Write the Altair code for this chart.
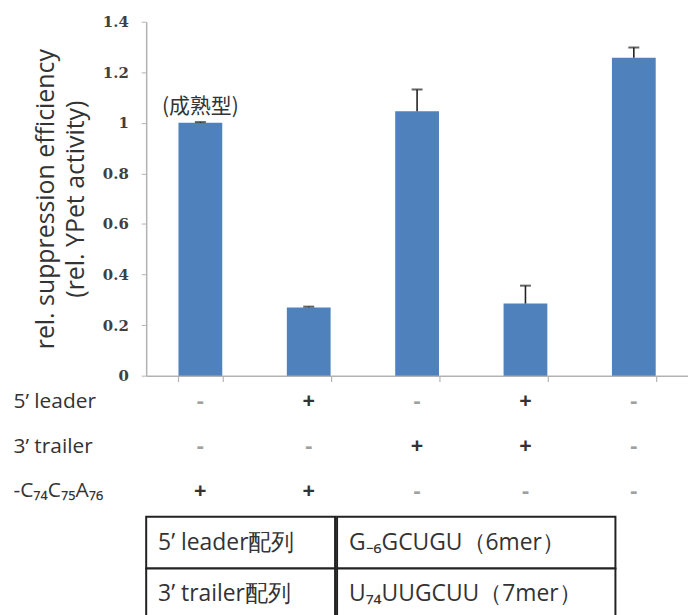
import altair as alt
import pandas as pd

# ---- data ----
conditions = ["c1", "c2", "c3", "c4", "c5"]
efficiency = [1.0, 0.27, 1.046, 0.285, 1.258]
error_top = [1.003, 0.273, 1.132, 0.356, 1.298]
notes = ["(成熟型)", "", "", "", ""]

row_names = ["5’ leader", "3’ trailer", "-C₇₄C₇₅A₇₆"]
leader = ["-", "+", "-", "+", "-"]
trailer = ["-", "-", "+", "+", "-"]
cca = ["+", "+", "-", "-", "-"]

y_ticks = [0, 0.2, 0.4, 0.6, 0.8, 1.0, 1.2, 1.4]
y_title = ["rel. suppression efficiency", "(rel. YPet activity)"]

table_rows = ["r1", "r2"]
table_left = ["5’ leader配列", "3’ trailer配列"]
table_right = ["G₋₆GCUGU（6mer）", "U₇₄UUGCUU（7mer）"]

GRAY = "#b3b3b3"
TXT = "#333333"
BLUE = "#4f81bd"
FONT = "Open Sans"

bars_df = pd.DataFrame({"cond": conditions, "eff": efficiency,
                        "up": error_top, "note": notes})

xscale = alt.Scale(domain=conditions, paddingInner=0.596, paddingOuter=0.298)


def x_enc(axis=True):
    if axis:
        return alt.X("cond:N", scale=xscale,
                     axis=alt.Axis(title=None, labels=False, ticks=True,
                                   tickBand="extent", tickSize=6,
                                   domainColor=GRAY, tickColor=GRAY,
                                   domainWidth=1.5, tickWidth=1.2))
    return alt.X("cond:N", scale=xscale, axis=None)


def y_enc(field):
    return alt.Y(field, type="quantitative",
                 scale=alt.Scale(domain=[0, 1.4], nice=False),
                 axis=alt.Axis(values=y_ticks, format="~g", title=y_title,
                               titleFont=FONT, titleFontSize=25,
                               titleFontWeight="normal", titleColor=TXT,
                               titleLineHeight=30, titlePadding=14,
                               labelFont="DejaVu Serif", labelFontWeight="bold",
                               labelFontSize=15, labelColor="#404040",
                               labelPadding=13, tickSize=5, tickColor=GRAY,
                               domainColor=GRAY, domainWidth=1.5, grid=False))


base = alt.Chart(bars_df)
bars = base.mark_bar(color=BLUE).encode(x=x_enc(), y=y_enc("eff"))
err = base.mark_rule(color="#222222", strokeWidth=1.6).encode(
    x=x_enc(), y=y_enc("eff"), y2="up:Q")
cap = base.mark_tick(color="#222222", size=11, thickness=2).encode(
    x=x_enc(), y=y_enc("up"))
note = base.mark_text(baseline="bottom", dy=-6, font="Noto Sans CJK JP",
                      fontSize=21, color=TXT).encode(
    x=x_enc(), y=y_enc("eff"), text="note:N")

top = alt.layer(bars, err, cap, note).properties(width=545, height=356)

# ---- +/- grid ----
sym_rows = []
for name, signs in zip(row_names, [leader, trailer, cca]):
    for c, s in zip(conditions, signs):
        sym_rows.append({"cond": c, "row": name, "sign": s})
sym_df = pd.DataFrame(sym_rows)

mid = alt.Chart(sym_df).mark_text(font=FONT, fontSize=22, fontWeight="bold",
                                  baseline="middle").encode(
    x=x_enc(False),
    y=alt.Y("row:N", sort=row_names,
            scale=alt.Scale(type="point", range=[18, 108], padding=0),
            axis=alt.Axis(title=None, domain=False, ticks=False,
                          labelAlign="left", labelPadding=134,
                          labelFont=FONT, labelFontSize=21, labelColor=TXT,
                          labelLimit=0)),
    text="sign:N",
    color=alt.Color("sign:N", scale=alt.Scale(domain=["+", "-"],
                                              range=["#333333", "#a0a0a0"]),
                    legend=None),
).properties(width=545, height=133)

# ---- table ----
tdf = pd.DataFrame({"row": table_rows, "left": table_left, "right": table_right})
ty = alt.Y("row:N", sort=table_rows, axis=None,
           scale=alt.Scale(paddingInner=0, paddingOuter=0))


def table_col(field, w):
    t = alt.Chart(tdf)
    cell = t.mark_rect(fill="white", stroke="#222222", strokeWidth=2).encode(y=ty)
    txt = t.mark_text(align="left", baseline="middle", font=FONT,
                      fontSize=23, color=TXT).encode(
        y=ty, x=alt.value(12), text=f"{field}:N")
    return alt.layer(cell, txt).properties(width=w, height=104)


table = alt.hconcat(table_col("left", 190), table_col("right", 280), spacing=0)

chart = alt.vconcat(top, mid, table, spacing=0).properties(
    padding={"left": 5, "top": 5, "right": 0, "bottom": 0}
).configure(font=FONT).configure_view(strokeWidth=0)

chart.save("out.html", embed_options={"renderer": "svg", "actions": False})
